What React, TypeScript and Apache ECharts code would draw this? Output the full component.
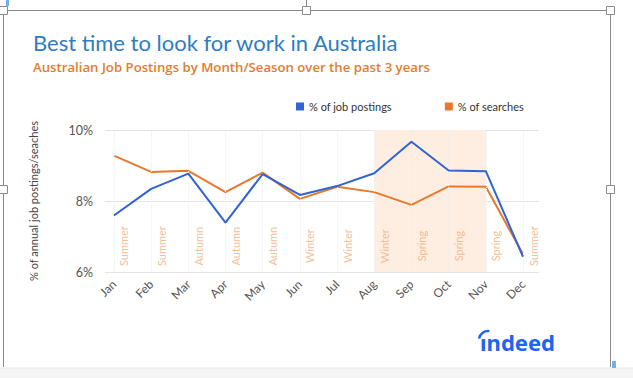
import React, { useEffect, useRef } from "react";
import * as echarts from "echarts";

const months = ["Jan", "Feb", "Mar", "Apr", "May", "Jun", "Jul", "Aug", "Sep", "Oct", "Nov", "Dec"];
const seasons = ["Summer", "Summer", "Autumn", "Autumn", "Autumn", "Winter", "Winter", "Winter", "Spring", "Spring", "Spring", "Summer"];
const jobPostings = [7.59, 8.34, 8.77, 7.39, 8.76, 8.17, 8.42, 8.78, 9.67, 8.86, 8.84, 6.43];
const searches = [9.28, 8.82, 8.85, 8.25, 8.8, 8.06, 8.4, 8.25, 7.89, 8.41, 8.4, 6.5];
const yTicks = [6, 8, 10];
const shadeFrom = 7; // Aug
const shadeTo = 10; // Nov
const seasonLabelY = 6.73;

const FONT = "Lato, 'Noto Sans', sans-serif";

export default function App() {
  const ref = useRef<HTMLDivElement>(null);
  useEffect(() => {
    if (!ref.current) return;
    const chart = echarts.init(ref.current, null, { renderer: "svg" });
    const idx = months.map((_, i) => i);
    const handle = (x: number, y: number) => ({
      type: "rect",
      shape: { x: x - 4, y: y - 4, width: 8, height: 8 },
      style: { fill: "#fff", stroke: "#8a8a8a", lineWidth: 1 },
      z: 20,
    });
    chart.setOption({
      animation: false,
      backgroundColor: "#ffffff",
      textStyle: { fontFamily: FONT },
      title: {
        text: "Best time to look for work in Australia",
        subtext: "Australian Job Postings by Month/Season over the past 3 years",
        left: 28,
        top: 26,
        itemGap: 7,
        textStyle: { color: "#2e7cc2", fontSize: 22, fontWeight: "normal", fontFamily: FONT },
        subtextStyle: { color: "#e27d2e", fontSize: 13.2, fontWeight: 600, fontFamily: "'Open Sans', Lato, sans-serif" },
      },
      legend: {
        data: ["% of job postings", "% of searches"],
        left: 291,
        top: 96,
        itemWidth: 8,
        itemHeight: 8,
        itemGap: 53,
        icon: "rect",
        textStyle: { color: "#333", fontSize: 11, fontFamily: FONT },
      },
      grid: { left: 105, right: 94, top: 130, height: 142, containLabel: false },
      xAxis: {
        type: "value",
        min: -0.24,
        max: 11.43,
        axisLine: { show: false },
        axisTick: { show: false },
        splitLine: { show: false },
        axisLabel: {
          customValues: idx,
          formatter: (v: number) => months[Math.round(v)],
          rotate: 45,
          margin: 10,
          color: "#555",
          fontSize: 12,
          fontFamily: FONT,
        },
      },
      yAxis: {
        type: "value",
        min: 6,
        max: 10,
        interval: 2,
        axisLine: { show: false },
        axisTick: { show: false },
        axisLabel: {
          formatter: (v: number) => (yTicks.includes(v) ? v + "%" : ""),
          color: "#555",
          fontSize: 12.5,
          margin: 12,
          fontFamily: FONT,
        },
        splitLine: { lineStyle: { color: "#e4e4e4", width: 1 } },
        name: "% of annual job postings/seaches",
        nameLocation: "middle",
        nameGap: 66,
        nameTextStyle: { color: "#444", fontSize: 11, fontFamily: FONT },
      },
      series: [
        {
          name: "% of job postings",
          type: "line",
          data: idx.map((i) => [i, jobPostings[i]]),
          symbol: "none",
          color: "#3163d1",
          lineStyle: { width: 2, color: "#3163d1" },
          z: 5,
          markArea: {
            silent: true,
            itemStyle: { color: "#fdeee1" },
            data: [[{ xAxis: shadeFrom, yAxis: 6 }, { xAxis: shadeTo, yAxis: 10 }]],
          },
          markLine: {
            silent: true,
            symbol: "none",
            label: { show: false },
            lineStyle: { color: "#ececec", type: "dotted", width: 1 },
            data: idx.map((i) => ({ xAxis: i })),
          },
        },
        {
          name: "% of searches",
          type: "line",
          data: idx.map((i) => [i, searches[i]]),
          symbol: "none",
          color: "#e8782c",
          lineStyle: { width: 2, color: "#e8782c" },
          z: 4,
        },
        {
          name: "seasons",
          type: "scatter",
          data: idx.map((i) => [i, seasonLabelY]),
          symbolSize: 1,
          itemStyle: { color: "rgba(0,0,0,0)" },
          silent: true,
          z: 3,
          label: {
            show: true,
            position: "inside",
            offset: [0, 10],
            rotate: 90,
            formatter: (p: any) => seasons[p.dataIndex],
            color: "#efae7c",
            fontSize: 11,
            fontFamily: FONT,
          },
        },
      ],
      graphic: [
        { type: "rect", shape: { x: 0, y: 368, width: 633, height: 10 }, style: { fill: "#f4f4f4" }, z: 10 },
        { type: "line", shape: { x1: 0, y1: 368, x2: 633, y2: 368 }, style: { stroke: "#e6e6e6", lineWidth: 1 }, z: 10 },
        { type: "line", shape: { x1: 3.5, y1: 10.5, x2: 610.5, y2: 10.5 }, style: { stroke: "#8a8a8a", lineWidth: 1 }, z: 15 },
        { type: "line", shape: { x1: 3.5, y1: 10.5, x2: 3.5, y2: 367 }, style: { stroke: "#8a8a8a", lineWidth: 1 }, z: 15 },
        { type: "line", shape: { x1: 610.5, y1: 10.5, x2: 610.5, y2: 367 }, style: { stroke: "#8a8a8a", lineWidth: 1 }, z: 15 },
        { type: "line", shape: { x1: 306.5, y1: 0, x2: 306.5, y2: 10 }, style: { stroke: "#8a8a8a", lineWidth: 1 }, z: 15 },
        handle(3.5, 10.5),
        handle(306.5, 10.5),
        handle(610.5, 10.5),
        handle(3.5, 189.5),
        handle(610.5, 189.5),
        { type: "rect", shape: { x: 6, y: 0, width: 3, height: 6 }, style: { fill: "#6fb0f0" }, z: 21 },
        { type: "rect", shape: { x: 612, y: 361, width: 4, height: 7 }, style: { fill: "#6fb0f0" }, z: 21 },
        {
          type: "text",
          x: 480,
          y: 331,
          z: 12,
          style: { text: "ındeed", fill: "#2164f3", font: "bold 22px 'Noto Sans', Lato, sans-serif" },
        },
        {
          type: "arc",
          shape: { cx: 488, cy: 340, r: 9, startAngle: Math.PI * 1.05, endAngle: Math.PI * 1.55 },
          style: { stroke: "#2164f3", lineWidth: 2.5, fill: "none" },
          z: 12,
        },
      ],
    });
    return () => chart.dispose();
  }, []);
  return (
    <div
      ref={ref}
      style={{ position: "absolute", left: 0, top: 0, width: 633, height: 378 }}
    />
  );
}
